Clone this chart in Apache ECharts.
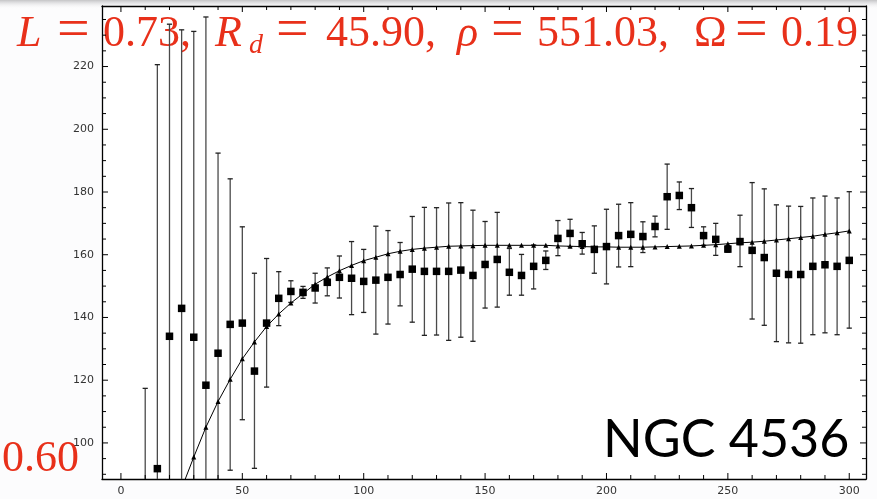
<!DOCTYPE html>
<html>
<head>
<meta charset="utf-8">
<script src="https://cdn.jsdelivr.net/npm/echarts@6/dist/echarts.min.js"></script>
<style>
html,body{margin:0;padding:0;background:#fcfcfd;}
#main{width:877px;height:499px;}
</style>
</head>
<body>
<div id="main"></div>
<script>
// ---- data ----
const obsX = [10,15,20,25,30,35,40,45,50,55,60,65,70,75,80,85,90,95,100,105,110,115,120,125,130,135,140,145,150,155,160,165,170,175,180,185,190,195,200,205,210,215,220,225,230,235,240,245,250,255,260,265,270,275,280,285,290,295,300];
const obsV = [62,91.8,134.0,142.9,133.7,118.4,128.6,137.8,138.2,122.9,138.2,146.1,148.3,148.0,149.4,151.2,152.8,152.5,151.5,151.9,152.8,153.7,155.4,154.7,154.7,154.7,155.1,153.4,156.9,158.5,154.4,153.4,156.3,158.2,165.2,166.8,163.5,161.7,162.6,166.1,166.5,165.8,169.0,178.5,178.9,175.0,166.1,164.9,161.8,164.2,161.4,159.1,154.1,153.7,153.7,156.3,156.8,156.3,158.2];
const obsHi = [117.4,220.6,233.5,231.7,231.2,235.8,192.4,184.2,168.9,154.1,158.8,154.6,151.7,149.9,154.1,155.8,159.6,164.2,161.7,169.1,167.7,163.9,172.2,175.1,175.0,176.5,176.6,174.2,170.6,173.5,162.0,160.1,163.1,161.2,170.9,171.3,167.1,169.2,174.5,176.1,176.6,170.5,172.3,188.9,183.2,181.1,168.9,170.0,162.8,172.6,183.0,181.0,175.9,175.5,175.4,178.1,178.7,178.1,180.1];
const obsLo = [6.6,-37.0,34.5,54.1,36.2,1.0,64.8,91.3,107.4,91.9,117.8,137.4,144.8,146.1,144.6,146.9,146.2,140.9,141.6,134.7,137.9,143.7,138.5,134.3,134.4,132.7,133.7,132.4,143.0,143.3,147.1,147.1,149.1,155.3,159.7,162.6,160.2,154.1,150.7,156.1,156.2,160.7,165.7,168.1,174.4,168.7,163.0,159.8,160.8,156.2,139.5,137.5,132.3,131.9,131.8,134.5,135.1,134.5,136.6];

const modelX = [25,30,35,40,45,50,55,60,65,70,75,80,85,90,95,100,105,110,115,120,125,130,135,140,145,150,155,160,165,170,175,180,185,190,195,200,205,210,215,220,225,230,235,240,245,250,255,260,265,270,275,280,285,290,295,300];
const modelV = [85.5,95.5,105.0,113.2,120.3,126.8,132.2,137.1,141.1,144.6,147.6,150.6,152.9,154.9,156.6,158.1,159.2,160.3,161.1,161.7,162.1,162.4,162.7,162.8,162.9,163.0,163.0,163.0,163.0,163.0,163.0,162.8,162.7,162.6,162.5,162.5,162.4,162.4,162.4,162.5,162.6,162.7,162.8,163.0,163.2,163.5,163.8,164.0,164.3,164.7,165.1,165.5,165.9,166.5,167.0,167.6];

const xMajor = [0,50,100,150,200,250,300];
const xMinor = [0,10,20,30,40,50,60,70,80,90,100,110,120,130,140,150,160,170,180,190,200,210,220,230,240,250,260,270,280,290,300];
const yMajor = [100,120,140,160,180,200,220];
const yMinor = [90,95,100,105,110,115,120,125,130,135,140,145,150,155,160,165,170,175,180,185,190,195,200,205,210,215,220,225,230,235];

const X_MIN = -7.8, X_MAX = 306.9, Y_MIN = 88.5, Y_MAX = 239.3;

const RED = '#e8301a';
const SERIF = '"Liberation Serif", "DejaVu Serif", serif';

// ---- chart ----
const chart = echarts.init(document.getElementById('main'), null, {renderer: 'canvas'});

function xAxisDef(pos, showLabel) {
  return {
    type: 'value', position: pos, min: X_MIN, max: X_MAX, gridIndex: 0,
    axisLine: {show: true, onZero: false, lineStyle: {color: '#000', width: 1.3}},
    axisTick: {show: false},
    axisLabel: {show: showLabel, customValues: xMajor, color: '#333', fontFamily: 'DejaVu Sans', fontSize: 11, margin: 7},
    splitLine: {show: false}
  };
}
function yAxisDef(pos, showLabel) {
  return {
    type: 'value', position: pos, min: Y_MIN, max: Y_MAX, gridIndex: 0,
    axisLine: {show: true, onZero: false, lineStyle: {color: '#000', width: 1.3}},
    axisTick: {show: false},
    axisLabel: {show: showLabel, customValues: yMajor, color: '#333', fontFamily: 'DejaVu Sans', fontSize: 11, margin: 8},
    splitLine: {show: false}
  };
}

function errRender(params, api) {
  const x = api.value(0), lo = api.value(1), hi = api.value(2);
  const cs = params.coordSys;
  const pLo = api.coord([x, lo]);
  const pHi = api.coord([x, hi]);
  const top = cs.y, bot = cs.y + cs.height;
  const y1 = Math.max(pHi[1], top), y2 = Math.min(pLo[1], bot);
  const st = {stroke: '#4a4a4a', lineWidth: 1.3};
  const cap = {stroke: '#222', lineWidth: 1.3};
  const cw = 2.6;
  const ch = [{type: 'line', shape: {x1: pLo[0], y1: y1, x2: pLo[0], y2: y2}, style: st}];
  if (pHi[1] >= top) ch.push({type: 'line', shape: {x1: pHi[0] - cw, y1: pHi[1], x2: pHi[0] + cw, y2: pHi[1]}, style: cap});
  if (pLo[1] <= bot) ch.push({type: 'line', shape: {x1: pLo[0] - cw, y1: pLo[1], x2: pLo[0] + cw, y2: pLo[1]}, style: cap});
  return {type: 'group', children: ch};
}

const tickStyle = {stroke: '#000', lineWidth: 1};
function xTickRender(params, api) {
  const x = api.value(0), major = api.value(2);
  const len = major ? 6 : 4;
  const b = api.coord([x, Y_MIN]);
  const t = api.coord([x, Y_MAX]);
  return {type: 'group', children: [
    {type: 'line', shape: {x1: b[0], y1: b[1], x2: b[0], y2: b[1] - len}, style: tickStyle},
    {type: 'line', shape: {x1: t[0], y1: t[1], x2: t[0], y2: t[1] + len}, style: tickStyle}
  ]};
}
function yTickRender(params, api) {
  const y = api.value(1), major = api.value(2);
  const len = major ? 6 : 4;
  const l = api.coord([X_MIN, y]);
  const r = api.coord([X_MAX, y]);
  return {type: 'group', children: [
    {type: 'line', shape: {x1: l[0], y1: l[1], x2: l[0] + len, y2: l[1]}, style: tickStyle},
    {type: 'line', shape: {x1: r[0], y1: r[1], x2: r[0] - len, y2: r[1]}, style: tickStyle}
  ]};
}

function txt(text, x, y, font, fill, z) {
  return {type: 'text', x: x, y: y, z: z || 0, silent: true,
    style: {text: text, font: font, fill: fill, textAlign: 'left', align: 'left', textVerticalAlign: 'middle', verticalAlign: 'middle'}};
}

const TY = 34.5;
const EQY = 31.5;
const F = '44px ' + SERIF;
const FI = 'italic 44px ' + SERIF;
const FEQ = '58px ' + SERIF;

const option = {
  animation: false,
  backgroundColor: '#fcfcfd',
  grid: {left: 102, top: 6, right: 11, bottom: 20, containLabel: false, show: true, backgroundColor: '#ffffff', borderWidth: 0},
  xAxis: [
    xAxisDef('bottom', true),
    xAxisDef('top', false)
  ],
  yAxis: [
    yAxisDef('left', true),
    yAxisDef('right', false)
  ],
  graphic: [
    {type: 'rect', left: 0, top: 0, z: -10, silent: true, shape: {width: 877, height: 9},
      style: {fill: new echarts.graphic.LinearGradient(0, 0, 0, 1, [{offset: 0, color: '#c4c4c6'}, {offset: 1, color: 'rgba(252,252,253,0)'}])}},
    txt('L', 17, TY, FI, RED),
    txt('=', 57, EQY, FEQ, RED),
    txt('0.73,', 103, TY, F, RED),
    txt('R', 215, TY, FI, RED),
    txt('d', 249, 46, 'italic 28px ' + SERIF, RED),
    txt('=', 276, EQY, FEQ, RED),
    txt('45.90,', 326, TY, F, RED),
    txt('\u03c1', 457, TY, FI, RED),
    txt('=', 491, EQY, FEQ, RED),
    txt('551.03,', 537, TY, F, RED),
    txt('\u03a9', 694, TY, F, RED),
    txt('=', 735, EQY, FEQ, RED),
    txt('0.19', 781, TY, F, RED),
    txt('0.60', 2, 459.5, F, RED),
    txt('NGC 4536', 603, 440, '52px Lato, "Open Sans", sans-serif', '#000')
  ],
  series: [
    {
      type: 'custom', name: 'xticks', xAxisIndex: 0, yAxisIndex: 0, z: 6, silent: true,
      renderItem: xTickRender,
      encode: {x: 0, y: 1},
      data: xMinor.map(x => [x, Y_MIN, xMajor.indexOf(x) >= 0 ? 1 : 0])
    },
    {
      type: 'custom', name: 'yticks', xAxisIndex: 0, yAxisIndex: 0, z: 6, silent: true,
      renderItem: yTickRender,
      encode: {x: 0, y: 1},
      data: yMinor.map(y => [X_MIN, y, yMajor.indexOf(y) >= 0 ? 1 : 0])
    },
    {
      type: 'custom', name: 'err', xAxisIndex: 0, yAxisIndex: 0, z: 3,
      renderItem: errRender,
      encode: {x: 0, y: [1, 2]},
      data: obsX.map((x, i) => [x, obsLo[i], obsHi[i]])
    },
    {
      type: 'line', name: 'model', xAxisIndex: 0, yAxisIndex: 0, z: 4, clip: true,
      data: modelX.map((x, i) => [x, modelV[i]]),
      symbol: 'triangle', symbolSize: 5, showSymbol: true,
      lineStyle: {color: '#000', width: 1},
      itemStyle: {color: '#000', opacity: 1}
    },
    {
      type: 'scatter', name: 'obs', xAxisIndex: 0, yAxisIndex: 0, z: 5, clip: true,
      data: obsX.map((x, i) => [x, obsV[i]]),
      symbol: 'rect', symbolSize: 7.5,
      itemStyle: {color: '#000', opacity: 1}
    }
  ]
};
chart.setOption(option);
</script>
</body>
</html>
